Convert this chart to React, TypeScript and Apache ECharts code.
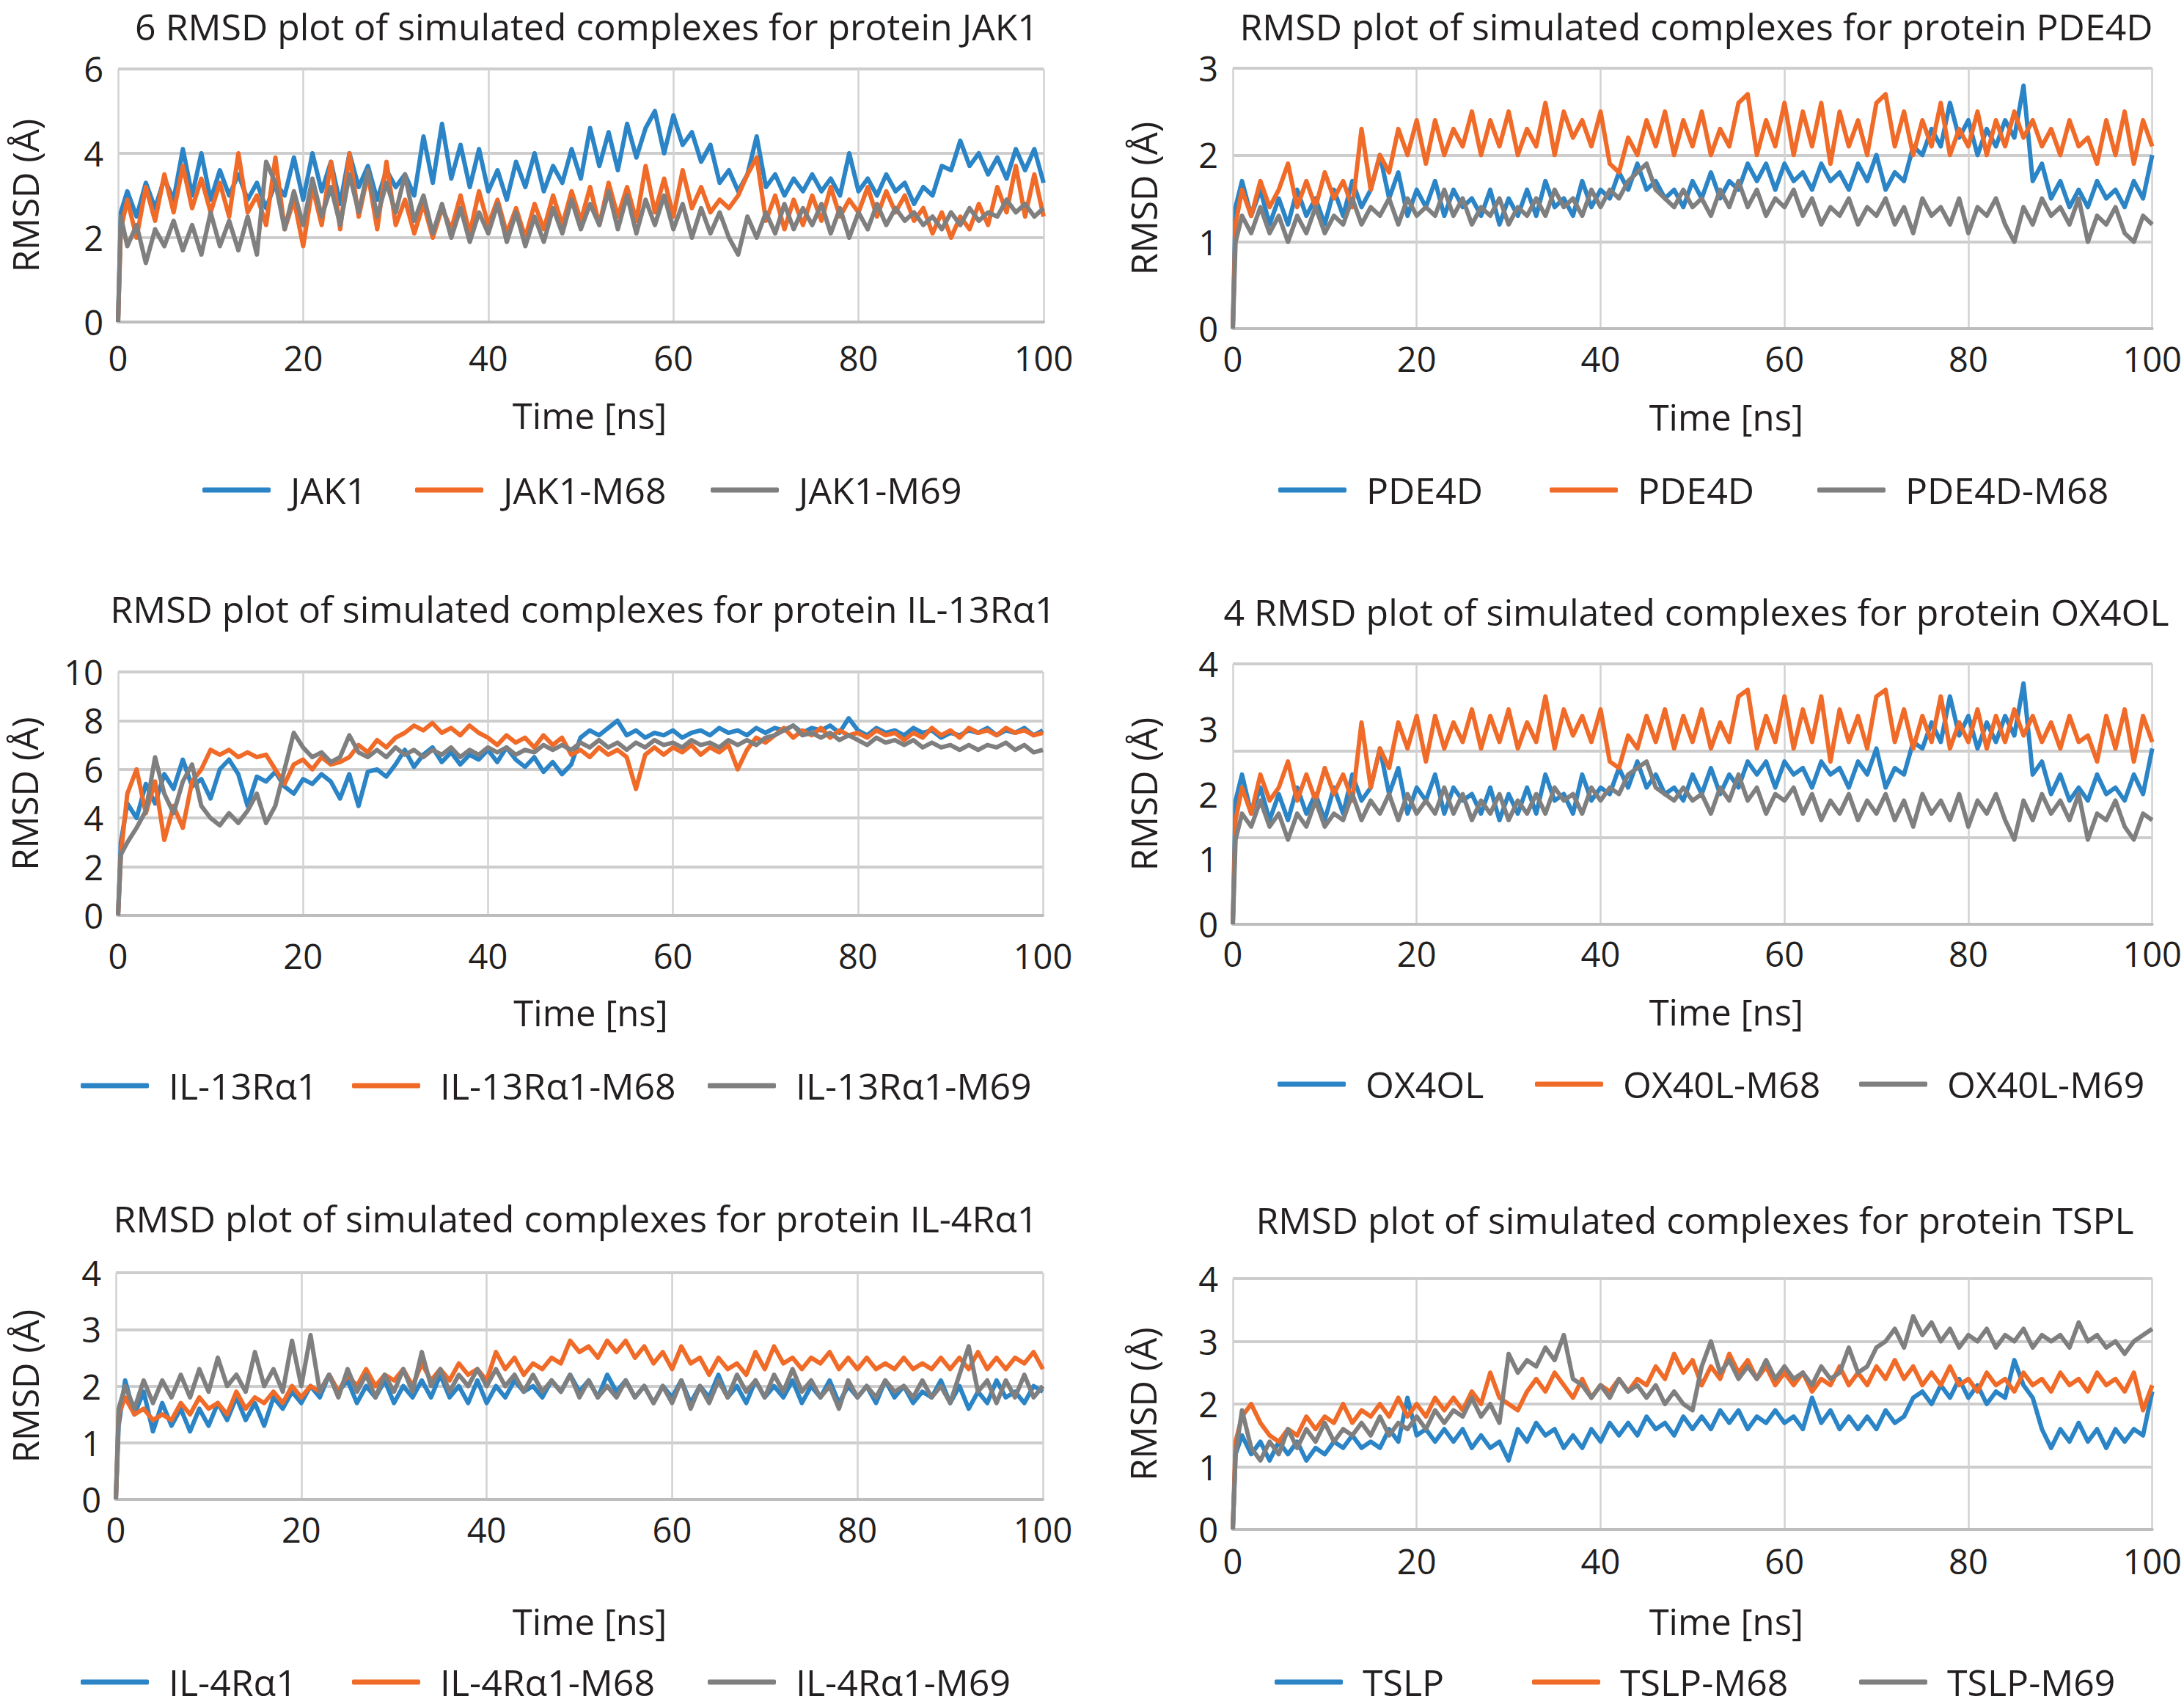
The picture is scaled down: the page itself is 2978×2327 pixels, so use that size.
import React, { useEffect, useRef } from 'react';
import * as echarts from 'echarts';

const FONT = '"Open Sans", "Noto Sans", sans-serif';
const TEXT = '#231f20';
const COLORS = ['#2a84c6', '#f06a28', '#7f7f7f'];

// sample times (ns): t=0, 0.3, then every 1 ns up to 100
const TIME: number[] = [0, 0.3, ...Array.from({ length: 100 }, (_, i) => i + 1)];

const X_TICKS = [0, 20, 40, 60, 80, 100];

const TITLES = [
  '6 RMSD plot of simulated complexes for protein JAK1',
  'RMSD plot of simulated complexes for protein PDE4D',
  'RMSD plot of simulated complexes for protein IL-13R\u03b11',
  '4 RMSD plot of simulated complexes for protein OX4OL',
  'RMSD plot of simulated complexes for protein IL-4R\u03b11',
  'RMSD plot of simulated complexes for protein TSPL',
];

const NAMES = [
  ['JAK1', 'JAK1-M68', 'JAK1-M69'],
  ['PDE4D', 'PDE4D', 'PDE4D-M68'],
  ['IL-13R\u03b11', 'IL-13R\u03b11-M68', 'IL-13R\u03b11-M69'],
  ['OX4OL', 'OX40L-M68', 'OX40L-M69'],
  ['IL-4R\u03b11', 'IL-4R\u03b11-M68', 'IL-4R\u03b11-M69'],
  ['TSLP', 'TSLP-M68', 'TSLP-M69'],
];

const Y_MAX = [6, 3, 10, 4, 4, 4];
const Y_STEP = [2, 1, 2, 1, 1, 1];

const JAK1_WT = [0, 2.6,
  3.1, 2.5, 3.3, 2.7, 3.4, 2.9, 4.1, 3.0, 4.0, 2.9,
  3.6, 3.0, 3.5, 2.9, 3.3, 2.7, 3.3, 3.0, 3.9, 2.9,
  4.0, 3.1, 3.8, 2.8, 4.0, 3.2, 3.7, 2.9, 3.6, 3.2,
  3.5, 3.0, 4.4, 3.3, 4.7, 3.4, 4.2, 3.2, 4.1, 3.1,
  3.6, 2.9, 3.8, 3.2, 4.0, 3.1, 3.7, 3.3, 4.1, 3.4,
  4.6, 3.7, 4.5, 3.6, 4.7, 3.9, 4.6, 5.0, 4.0, 4.9,
  4.2, 4.5, 3.8, 4.2, 3.3, 3.6, 3.1, 3.5, 4.4, 3.2,
  3.5, 3.0, 3.4, 3.1, 3.5, 3.1, 3.4, 3.0, 4.0, 3.1,
  3.4, 3.0, 3.5, 3.1, 3.3, 2.8, 3.2, 3.0, 3.7, 3.6,
  4.3, 3.7, 4.0, 3.5, 3.9, 3.4, 4.1, 3.6, 4.1, 3.3];
const JAK1_M68 = [0, 2.2,
  2.9, 2.0, 3.2, 2.4, 3.5, 2.6, 3.7, 2.7, 3.4, 2.6,
  3.3, 2.5, 4.0, 2.6, 3.0, 2.3, 3.9, 2.2, 2.9, 1.8,
  3.2, 2.3, 3.8, 2.2, 4.0, 2.5, 3.5, 2.2, 3.8, 2.3,
  2.9, 2.1, 2.8, 2.0, 2.7, 2.2, 3.0, 2.1, 3.1, 2.3,
  2.9, 2.1, 2.7, 2.0, 2.8, 2.2, 3.0, 2.3, 3.1, 2.4,
  3.2, 2.3, 3.3, 2.5, 3.2, 2.4, 3.7, 2.6, 3.4, 2.5,
  3.6, 2.7, 3.2, 2.6, 2.9, 2.7, 3.0, 3.5, 3.9, 2.4,
  3.0, 2.2, 2.9, 2.3, 3.0, 2.4, 3.2, 2.5, 2.9, 2.6,
  3.2, 2.5, 3.1, 2.6, 3.0, 2.4, 2.7, 2.1, 2.6, 2.0,
  2.5, 2.2, 2.8, 2.3, 3.2, 2.6, 3.7, 2.5, 3.5, 2.5];
const JAK1_M69 = [0, 2.5,
  1.8, 2.3, 1.4, 2.2, 1.8, 2.4, 1.7, 2.3, 1.6, 2.6,
  1.8, 2.4, 1.7, 2.5, 1.6, 3.8, 3.3, 2.2, 3.1, 2.3,
  3.4, 2.5, 3.2, 2.3, 3.5, 2.6, 3.6, 2.5, 3.3, 2.6,
  3.5, 2.4, 3.0, 2.1, 2.8, 2.0, 2.7, 1.9, 2.6, 2.1,
  2.8, 1.9, 2.6, 1.8, 2.5, 1.9, 2.7, 2.1, 2.9, 2.2,
  2.8, 2.3, 3.1, 2.2, 3.0, 2.1, 2.9, 2.3, 3.0, 2.2,
  2.8, 2.0, 2.7, 2.1, 2.6, 2.0, 1.6, 2.5, 2.0, 2.6,
  2.1, 2.8, 2.2, 2.7, 2.3, 2.8, 2.1, 2.7, 2.0, 2.6,
  2.2, 2.8, 2.3, 2.7, 2.4, 2.6, 2.3, 2.5, 2.2, 2.6,
  2.3, 2.7, 2.4, 2.6, 2.5, 2.9, 2.6, 2.8, 2.5, 2.7];

const PDE4D_A = [0, 1.4,
  1.7, 1.3, 1.6, 1.2, 1.5, 1.2, 1.6, 1.3, 1.5, 1.2,
  1.6, 1.3, 1.7, 1.4, 1.6, 2.0, 1.5, 1.8, 1.3, 1.6,
  1.4, 1.7, 1.3, 1.6, 1.4, 1.5, 1.3, 1.6, 1.2, 1.5,
  1.3, 1.6, 1.3, 1.7, 1.4, 1.5, 1.3, 1.7, 1.4, 1.6,
  1.5, 1.8, 1.6, 1.9, 1.6, 1.7, 1.5, 1.6, 1.4, 1.7,
  1.5, 1.8, 1.5, 1.7, 1.6, 1.9, 1.7, 1.9, 1.6, 1.9,
  1.7, 1.8, 1.6, 1.9, 1.7, 1.8, 1.6, 1.9, 1.7, 2.0,
  1.6, 1.8, 1.7, 2.1, 2.0, 2.3, 2.1, 2.6, 2.2, 2.4,
  2.0, 2.3, 2.1, 2.4, 2.2, 2.8, 1.7, 1.9, 1.5, 1.7,
  1.4, 1.6, 1.4, 1.7, 1.5, 1.6, 1.4, 1.7, 1.5, 2.0];
const PDE4D_B = [0, 1.2,
  1.6, 1.3, 1.7, 1.4, 1.6, 1.9, 1.4, 1.7, 1.4, 1.8,
  1.5, 1.7, 1.4, 2.3, 1.6, 2.0, 1.8, 2.3, 2.0, 2.4,
  1.9, 2.4, 2.0, 2.3, 2.1, 2.5, 2.0, 2.4, 2.1, 2.5,
  2.0, 2.3, 2.1, 2.6, 2.0, 2.5, 2.2, 2.4, 2.1, 2.5,
  1.9, 1.8, 2.2, 2.0, 2.4, 2.1, 2.5, 2.0, 2.4, 2.1,
  2.5, 2.0, 2.3, 2.1, 2.6, 2.7, 2.0, 2.4, 2.1, 2.6,
  2.0, 2.5, 2.1, 2.6, 1.9, 2.5, 2.1, 2.4, 2.0, 2.6,
  2.7, 2.1, 2.5, 2.0, 2.4, 2.1, 2.6, 2.0, 2.3, 2.1,
  2.5, 2.0, 2.4, 2.1, 2.5, 2.2, 2.4, 2.1, 2.3, 2.0,
  2.4, 2.1, 2.2, 1.9, 2.4, 2.0, 2.5, 1.9, 2.4, 2.1];
const PDE4D_M68 = [0, 1.0,
  1.3, 1.1, 1.4, 1.1, 1.3, 1.0, 1.3, 1.1, 1.4, 1.1,
  1.3, 1.2, 1.5, 1.2, 1.4, 1.3, 1.5, 1.2, 1.5, 1.3,
  1.4, 1.3, 1.6, 1.3, 1.5, 1.2, 1.4, 1.3, 1.5, 1.2,
  1.4, 1.3, 1.5, 1.3, 1.6, 1.4, 1.5, 1.3, 1.6, 1.4,
  1.6, 1.5, 1.7, 1.8, 1.9, 1.6, 1.5, 1.4, 1.6, 1.4,
  1.5, 1.3, 1.6, 1.4, 1.7, 1.4, 1.6, 1.3, 1.5, 1.4,
  1.6, 1.3, 1.5, 1.2, 1.4, 1.3, 1.5, 1.2, 1.4, 1.3,
  1.5, 1.2, 1.4, 1.1, 1.5, 1.3, 1.4, 1.2, 1.5, 1.1,
  1.4, 1.3, 1.5, 1.2, 1.0, 1.4, 1.2, 1.5, 1.3, 1.4,
  1.2, 1.5, 1.0, 1.3, 1.2, 1.4, 1.1, 1.0, 1.3, 1.2];

const IL13_WT = [0, 3.0,
  4.6, 4.0, 5.4, 4.6, 5.8, 5.2, 6.4, 5.3, 5.6, 4.8,
  6.0, 6.4, 5.8, 4.5, 5.7, 5.5, 5.9, 5.3, 5.0, 5.6,
  5.4, 5.8, 5.5, 4.8, 5.8, 4.5, 5.9, 6.0, 5.7, 6.2,
  6.8, 6.1, 6.6, 6.9, 6.3, 6.7, 6.2, 6.6, 6.4, 6.8,
  6.3, 6.9, 6.4, 6.1, 6.5, 5.9, 6.3, 5.8, 6.2, 7.3,
  7.6, 7.4, 7.7, 8.0, 7.4, 7.6, 7.3, 7.5, 7.4, 7.6,
  7.3, 7.5, 7.6, 7.4, 7.7, 7.5, 7.6, 7.4, 7.7, 7.5,
  7.7, 7.6, 7.8, 7.5, 7.7, 7.6, 7.8, 7.5, 8.1, 7.6,
  7.4, 7.7, 7.5, 7.6, 7.4, 7.7, 7.5, 7.6, 7.3, 7.5,
  7.4, 7.6, 7.5, 7.7, 7.4, 7.6, 7.5, 7.7, 7.4, 7.6];
const IL13_M68 = [0, 2.5,
  5.0, 6.0, 4.2, 5.5, 3.1, 4.5, 3.6, 5.5, 6.0, 6.8,
  6.6, 6.8, 6.5, 6.7, 6.5, 6.6, 6.0, 5.4, 6.2, 6.4,
  6.0, 6.5, 6.2, 6.3, 6.5, 7.0, 6.7, 7.2, 6.9, 7.3,
  7.5, 7.8, 7.6, 7.9, 7.5, 7.7, 7.4, 7.8, 7.5, 7.3,
  7.0, 7.4, 7.1, 7.3, 6.9, 7.4, 7.0, 7.3, 6.6, 6.8,
  6.5, 6.9, 6.6, 6.8, 6.5, 5.2, 6.6, 6.9, 6.6, 6.9,
  6.7, 7.0, 6.6, 6.9, 6.7, 7.0, 6.0, 6.8, 7.3, 7.1,
  7.4, 7.7, 7.3, 7.6, 7.4, 7.7, 7.3, 7.6, 7.4, 7.5,
  7.3, 7.6, 7.4, 7.5, 7.2, 7.5, 7.3, 7.7, 7.4, 7.6,
  7.3, 7.7, 7.5, 7.6, 7.4, 7.7, 7.5, 7.6, 7.4, 7.5];
const IL13_M69 = [0, 2.5,
  3.0, 3.6, 4.3, 6.5, 5.0, 4.2, 5.5, 6.2, 4.5, 4.0,
  3.7, 4.2, 3.8, 4.3, 5.0, 3.8, 4.5, 6.0, 7.5, 6.9,
  6.5, 6.7, 6.3, 6.5, 7.4, 6.7, 6.5, 6.8, 6.5, 6.9,
  6.6, 6.8, 6.5, 6.8, 6.6, 6.9, 6.5, 6.8, 6.6, 6.9,
  6.7, 6.9, 6.6, 6.8, 6.7, 7.0, 6.8, 7.0, 6.8, 7.1,
  6.9, 7.2, 6.9, 7.1, 6.8, 7.1, 6.9, 7.2, 7.0, 7.1,
  6.9, 7.2, 7.0, 7.1, 6.9, 7.2, 7.0, 7.2, 7.0, 7.3,
  7.4, 7.6, 7.8, 7.4, 7.5, 7.3, 7.5, 7.2, 7.4, 7.2,
  7.0, 7.3, 7.1, 7.2, 7.0, 7.2, 6.9, 7.1, 6.9, 7.0,
  6.8, 7.0, 6.8, 7.0, 6.9, 7.1, 6.8, 7.0, 6.7, 6.8];

const OX4OL_WT = [0, 1.9,
  2.3, 1.7, 2.1, 1.6, 2.0, 1.6, 2.1, 1.7, 2.0, 1.6,
  2.1, 1.7, 2.3, 1.9, 2.1, 2.7, 2.0, 2.4, 1.7, 2.1,
  1.9, 2.3, 1.7, 2.1, 1.9, 2.0, 1.7, 2.1, 1.6, 2.0,
  1.7, 2.1, 1.7, 2.3, 1.9, 2.0, 1.7, 2.3, 1.9, 2.1,
  2.0, 2.4, 2.1, 2.5, 2.1, 2.3, 2.0, 2.1, 1.9, 2.3,
  2.0, 2.4, 2.0, 2.3, 2.1, 2.5, 2.3, 2.5, 2.1, 2.5,
  2.3, 2.4, 2.1, 2.5, 2.3, 2.4, 2.1, 2.5, 2.3, 2.7,
  2.1, 2.4, 2.3, 2.8, 2.7, 3.1, 2.8, 3.5, 2.9, 3.2,
  2.7, 3.1, 2.8, 3.2, 2.9, 3.7, 2.3, 2.5, 2.0, 2.3,
  1.9, 2.1, 1.9, 2.3, 2.0, 2.1, 1.9, 2.3, 2.0, 2.7];
const OX40L_M68 = [0, 1.6,
  2.1, 1.7, 2.3, 1.9, 2.1, 2.5, 1.9, 2.3, 1.9, 2.4,
  2.0, 2.3, 1.9, 3.1, 2.1, 2.7, 2.4, 3.1, 2.7, 3.2,
  2.5, 3.2, 2.7, 3.1, 2.8, 3.3, 2.7, 3.2, 2.8, 3.3,
  2.7, 3.1, 2.8, 3.5, 2.7, 3.3, 2.9, 3.2, 2.8, 3.3,
  2.5, 2.4, 2.9, 2.7, 3.2, 2.8, 3.3, 2.7, 3.2, 2.8,
  3.3, 2.7, 3.1, 2.8, 3.5, 3.6, 2.7, 3.2, 2.8, 3.5,
  2.7, 3.3, 2.8, 3.5, 2.5, 3.3, 2.8, 3.2, 2.7, 3.5,
  3.6, 2.8, 3.3, 2.7, 3.2, 2.8, 3.5, 2.7, 3.1, 2.8,
  3.3, 2.7, 3.2, 2.8, 3.3, 2.9, 3.2, 2.8, 3.1, 2.7,
  3.2, 2.8, 2.9, 2.5, 3.2, 2.7, 3.3, 2.5, 3.2, 2.8];
const OX40L_M69 = [0, 1.3,
  1.7, 1.5, 1.9, 1.5, 1.7, 1.3, 1.7, 1.5, 1.9, 1.5,
  1.7, 1.6, 2.0, 1.6, 1.9, 1.7, 2.0, 1.6, 2.0, 1.7,
  1.9, 1.7, 2.1, 1.7, 2.0, 1.6, 1.9, 1.7, 2.0, 1.6,
  1.9, 1.7, 2.0, 1.7, 2.1, 1.9, 2.0, 1.7, 2.1, 1.9,
  2.1, 2.0, 2.3, 2.4, 2.5, 2.1, 2.0, 1.9, 2.1, 1.9,
  2.0, 1.7, 2.1, 1.9, 2.3, 1.9, 2.1, 1.7, 2.0, 1.9,
  2.1, 1.7, 2.0, 1.6, 1.9, 1.7, 2.0, 1.6, 1.9, 1.7,
  2.0, 1.6, 1.9, 1.5, 2.0, 1.7, 1.9, 1.6, 2.0, 1.5,
  1.9, 1.7, 2.0, 1.6, 1.3, 1.9, 1.6, 2.0, 1.7, 1.9,
  1.6, 2.0, 1.3, 1.7, 1.6, 1.9, 1.5, 1.3, 1.7, 1.6];

const IL4_WT = [0, 1.3,
  2.1, 1.5, 1.9, 1.2, 1.7, 1.3, 1.6, 1.2, 1.6, 1.3,
  1.7, 1.4, 1.8, 1.4, 1.7, 1.3, 1.8, 1.6, 1.9, 1.7,
  2.0, 1.8, 2.2, 1.9, 2.1, 1.7, 2.0, 1.8, 2.1, 1.7,
  2.0, 1.8, 2.1, 1.8, 2.2, 1.8, 2.0, 1.7, 2.1, 1.7,
  2.0, 1.8, 2.1, 1.9, 2.0, 1.8, 2.1, 1.9, 2.2, 1.9,
  2.1, 1.8, 2.2, 1.9, 2.1, 1.8, 2.0, 1.7, 2.0, 1.8,
  2.1, 1.7, 2.0, 1.8, 2.2, 1.8, 2.0, 1.7, 2.1, 1.8,
  2.0, 1.8, 2.1, 1.7, 2.0, 1.8, 2.1, 1.7, 2.0, 1.8,
  2.0, 1.7, 2.1, 1.8, 2.0, 1.7, 1.9, 1.8, 2.1, 1.7,
  2.0, 1.6, 1.9, 1.7, 2.1, 1.8, 1.9, 1.7, 2.0, 1.9];
const IL4_M68 = [0, 1.5,
  1.8, 1.5, 1.6, 1.4, 1.5, 1.4, 1.7, 1.5, 1.8, 1.6,
  1.7, 1.5, 1.9, 1.6, 1.8, 1.7, 1.9, 1.7, 2.0, 1.8,
  2.0, 1.9, 2.2, 1.9, 2.2, 2.0, 2.3, 2.0, 2.2, 2.1,
  2.3, 2.0, 2.4, 2.1, 2.3, 2.1, 2.4, 2.2, 2.3, 2.1,
  2.6, 2.3, 2.5, 2.2, 2.4, 2.3, 2.5, 2.4, 2.8, 2.6,
  2.7, 2.5, 2.8, 2.6, 2.8, 2.5, 2.7, 2.4, 2.6, 2.3,
  2.7, 2.4, 2.5, 2.2, 2.5, 2.3, 2.4, 2.2, 2.6, 2.3,
  2.7, 2.4, 2.5, 2.3, 2.5, 2.4, 2.6, 2.3, 2.5, 2.3,
  2.5, 2.3, 2.4, 2.3, 2.5, 2.3, 2.4, 2.3, 2.5, 2.3,
  2.5, 2.3, 2.6, 2.3, 2.5, 2.3, 2.5, 2.4, 2.6, 2.3];
const IL4_M69 = [0, 1.6,
  2.0, 1.6, 2.1, 1.7, 2.1, 1.8, 2.2, 1.8, 2.3, 1.9,
  2.5, 2.0, 2.2, 1.9, 2.6, 2.0, 2.3, 1.9, 2.8, 2.0,
  2.9, 1.9, 2.2, 1.8, 2.3, 1.9, 2.2, 1.8, 2.2, 1.9,
  2.3, 1.9, 2.6, 2.0, 2.3, 1.9, 2.2, 2.0, 2.3, 2.0,
  2.3, 2.0, 2.2, 1.9, 2.2, 1.9, 2.1, 1.9, 2.2, 1.8,
  2.1, 1.8, 2.0, 1.8, 2.1, 1.8, 2.0, 1.7, 2.0, 1.7,
  2.1, 1.6, 2.0, 1.7, 2.1, 1.8, 2.2, 1.9, 2.1, 1.8,
  2.2, 1.9, 2.3, 1.9, 2.1, 1.8, 2.0, 1.6, 2.1, 1.8,
  2.0, 1.8, 2.1, 1.9, 2.0, 1.8, 2.1, 1.8, 2.0, 1.7,
  2.2, 2.7, 1.9, 2.1, 1.7, 2.1, 1.8, 2.2, 1.8, 2.0];

const TSLP_WT = [0, 1.2,
  1.5, 1.2, 1.4, 1.1, 1.4, 1.2, 1.4, 1.1, 1.3, 1.2,
  1.4, 1.3, 1.5, 1.3, 1.4, 1.3, 1.6, 1.4, 2.1, 1.5,
  1.6, 1.4, 1.6, 1.4, 1.6, 1.3, 1.5, 1.3, 1.4, 1.1,
  1.6, 1.4, 1.7, 1.5, 1.6, 1.3, 1.5, 1.3, 1.6, 1.4,
  1.7, 1.5, 1.7, 1.5, 1.8, 1.6, 1.7, 1.5, 1.8, 1.6,
  1.8, 1.6, 1.9, 1.7, 1.9, 1.6, 1.8, 1.7, 1.9, 1.7,
  1.8, 1.6, 2.1, 1.7, 1.9, 1.6, 1.8, 1.6, 1.8, 1.6,
  1.9, 1.7, 1.8, 2.1, 2.2, 2.0, 2.3, 2.1, 2.4, 2.1,
  2.3, 2.0, 2.2, 2.1, 2.7, 2.3, 2.1, 1.6, 1.3, 1.6,
  1.4, 1.7, 1.4, 1.6, 1.3, 1.6, 1.4, 1.6, 1.5, 2.2];
const TSLP_M68 = [0, 1.4,
  1.8, 2.0, 1.7, 1.5, 1.4, 1.6, 1.5, 1.8, 1.6, 1.8,
  1.7, 2.0, 1.7, 1.9, 1.8, 2.0, 1.8, 2.1, 1.8, 2.0,
  1.8, 2.1, 1.9, 2.1, 1.9, 2.2, 2.0, 2.5, 2.1, 2.0,
  1.9, 2.2, 2.4, 2.2, 2.5, 2.3, 2.1, 2.4, 2.1, 2.3,
  2.2, 2.4, 2.2, 2.4, 2.3, 2.6, 2.4, 2.8, 2.5, 2.7,
  2.3, 2.6, 2.4, 2.8, 2.5, 2.7, 2.4, 2.6, 2.3, 2.5,
  2.3, 2.5, 2.2, 2.4, 2.3, 2.6, 2.3, 2.5, 2.3, 2.6,
  2.4, 2.7, 2.4, 2.6, 2.3, 2.5, 2.3, 2.6, 2.3, 2.4,
  2.2, 2.5, 2.3, 2.4, 2.2, 2.5, 2.3, 2.4, 2.2, 2.5,
  2.3, 2.4, 2.2, 2.5, 2.3, 2.4, 2.2, 2.5, 1.9, 2.3];
const TSLP_M69 = [0, 1.2,
  1.9, 1.3, 1.1, 1.4, 1.2, 1.6, 1.3, 1.6, 1.4, 1.7,
  1.4, 1.6, 1.5, 1.7, 1.5, 1.8, 1.5, 1.7, 1.6, 1.8,
  1.6, 1.9, 1.7, 1.9, 1.8, 2.1, 1.8, 2.0, 1.7, 2.8,
  2.5, 2.7, 2.6, 2.9, 2.7, 3.1, 2.4, 2.3, 2.1, 2.3,
  2.1, 2.4, 2.2, 2.3, 2.1, 2.3, 2.0, 2.2, 2.0, 1.9,
  2.6, 3.0, 2.5, 2.7, 2.4, 2.6, 2.4, 2.7, 2.4, 2.6,
  2.4, 2.5, 2.3, 2.6, 2.4, 2.5, 2.9, 2.5, 2.6, 2.9,
  3.0, 3.2, 2.9, 3.4, 3.1, 3.3, 3.0, 3.2, 2.9, 3.1,
  3.0, 3.2, 2.9, 3.1, 3.0, 3.2, 2.9, 3.1, 3.0, 3.1,
  2.9, 3.3, 3.0, 3.1, 2.9, 3.0, 2.8, 3.0, 3.1, 3.2];

const VALUES = [
  [JAK1_WT, JAK1_M68, JAK1_M69],
  [PDE4D_A, PDE4D_B, PDE4D_M68],
  [IL13_WT, IL13_M68, IL13_M69],
  [OX4OL_WT, OX40L_M68, OX40L_M69],
  [IL4_WT, IL4_M68, IL4_M69],
  [TSLP_WT, TSLP_M68, TSLP_M69],
];

// layout (pixels)
const LAYOUT = [
  { left: 161, top: 94, width: 1262, height: 345, titleX: 800, titleY: 36, xNameGap: 102, xShift: 12, xLabelMargin: 25, yNameGap: 103, legendY: 665, legendX: [276, 566, 969] },
  { left: 1681, top: 93, width: 1273, height: 355, titleX: 2313, titleY: 36, xNameGap: 95, xShift: 46, xLabelMargin: 17, yNameGap: 98, legendY: 665, legendX: [1743, 2113, 2478] },
  { left: 161, top: 916, width: 1261, height: 332, titleX: 795, titleY: 830, xNameGap: 107, xShift: 14, xLabelMargin: 31, yNameGap: 104, legendY: 1477, legendX: [110, 480, 965] },
  { left: 1681, top: 905, width: 1273, height: 355, titleX: 2313, titleY: 834, xNameGap: 94, xShift: 46, xLabelMargin: 16, yNameGap: 98, legendY: 1475, legendX: [1742, 2093, 2535] },
  { left: 158, top: 1735, width: 1264, height: 309, titleX: 785, titleY: 1661, xNameGap: 141, xShift: 14, xLabelMargin: 17, yNameGap: 100, legendY: 2290, legendX: [110, 480, 965] },
  { left: 1681, top: 1743, width: 1274, height: 342, titleX: 2311, titleY: 1663, xNameGap: 100, xShift: 46, xLabelMargin: 19, yNameGap: 99, legendY: 2290, legendX: [1738, 2089, 2535] },
];

function buildOption(): any {
  const grid = LAYOUT.map((l) => ({ left: l.left, top: l.top, width: l.width, height: l.height, containLabel: false }));

  const xAxis = LAYOUT.map((l, i) => ({
    type: 'value',
    gridIndex: i,
    min: X_TICKS[0],
    max: X_TICKS[X_TICKS.length - 1],
    interval: X_TICKS[1] - X_TICKS[0],
    axisLine: { show: true, onZero: false, lineStyle: { color: '#bdbdbd', width: 4 } },
    axisTick: { show: false },
    axisLabel: { fontSize: 47, color: TEXT, fontFamily: FONT, margin: l.xLabelMargin },
    splitLine: { show: true, lineStyle: { color: '#d2d2d2', width: 2.5 } },
    name: 'Time [ns]',
    nameLocation: 'middle',
    nameGap: l.xNameGap,
    nameTextStyle: { fontSize: 49, color: TEXT, fontFamily: FONT, padding: [0, 0, 0, l.xShift * 2] },
  }));

  const yAxis: any[] = LAYOUT.map((l, i) => ({
    type: 'value',
    gridIndex: i,
    min: 0,
    max: Y_MAX[i],
    interval: Y_STEP[i],
    axisLine: { show: false },
    axisTick: { show: false },
    axisLabel: { fontSize: 47, color: TEXT, fontFamily: FONT, margin: 20 },
    splitLine: { show: i !== 3, lineStyle: { color: '#cdcdcd', width: 4 } },
    name: 'RMSD (\u00c5)',
    nameLocation: 'middle',
    nameGap: l.yNameGap,
    nameTextStyle: { fontSize: 49, color: TEXT, fontFamily: FONT },
  }));
  // OX4OL panel: its gridlines sit at thirds of the height (as in the source figure)
  yAxis.push({
    type: 'value',
    gridIndex: 3,
    position: 'left',
    min: 0,
    max: 3,
    interval: 1,
    axisLine: { show: false },
    axisTick: { show: false },
    axisLabel: { show: false },
    splitLine: { show: true, lineStyle: { color: '#cdcdcd', width: 4 } },
  });

  const series: any[] = [];
  const legend: any[] = [];
  VALUES.forEach((group, i) => {
    group.forEach((vals, j) => {
      series.push({
        type: 'line',
        name: NAMES[i][j],
        xAxisIndex: i,
        yAxisIndex: i,
        data: TIME.map((t, k) => [t, vals[k]]),
        showSymbol: false,
        symbol: 'none',
        silent: true,
        lineStyle: { width: 6, color: COLORS[j], join: 'round' },
        itemStyle: { color: COLORS[j] },
        z: 2 + j,
      });
      legend.push({
        data: [{ name: NAMES[i][j], itemStyle: { color: COLORS[j] } }],
        left: LAYOUT[i].legendX[j],
        top: LAYOUT[i].legendY - 22,
        icon: 'roundRect',
        itemWidth: 93,
        itemHeight: 7,
        padding: 0,
        selectedMode: false,
        textStyle: { fontSize: 50, lineHeight: 44, color: TEXT, fontFamily: FONT, padding: [0, 0, 0, 22] },
      });
    });
  });

  const graphic = LAYOUT.map((l, i) => ({
    type: 'text',
    x: l.titleX,
    y: l.titleY,
    silent: true,
    style: {
      text: TITLES[i],
      fill: TEXT,
      fontSize: 50,
      fontFamily: FONT,
      textAlign: 'center',
      textVerticalAlign: 'middle',
      align: 'center',
      verticalAlign: 'middle',
    },
  }));

  return {
    animation: false,
    backgroundColor: '#ffffff',
    grid,
    xAxis,
    yAxis,
    series,
    legend,
    graphic,
  };
}

export default function App() {
  const ref = useRef<HTMLDivElement>(null);
  useEffect(() => {
    if (!ref.current) return;
    const chart = echarts.init(ref.current, null, { renderer: 'svg', width: 2978, height: 2327 });
    chart.setOption(buildOption());
    return () => chart.dispose();
  }, []);
  return (
    <div
      ref={ref}
      style={{ position: 'fixed', left: 0, top: 0, width: 2978, height: 2327, background: '#fff' }}
    />
  );
}
